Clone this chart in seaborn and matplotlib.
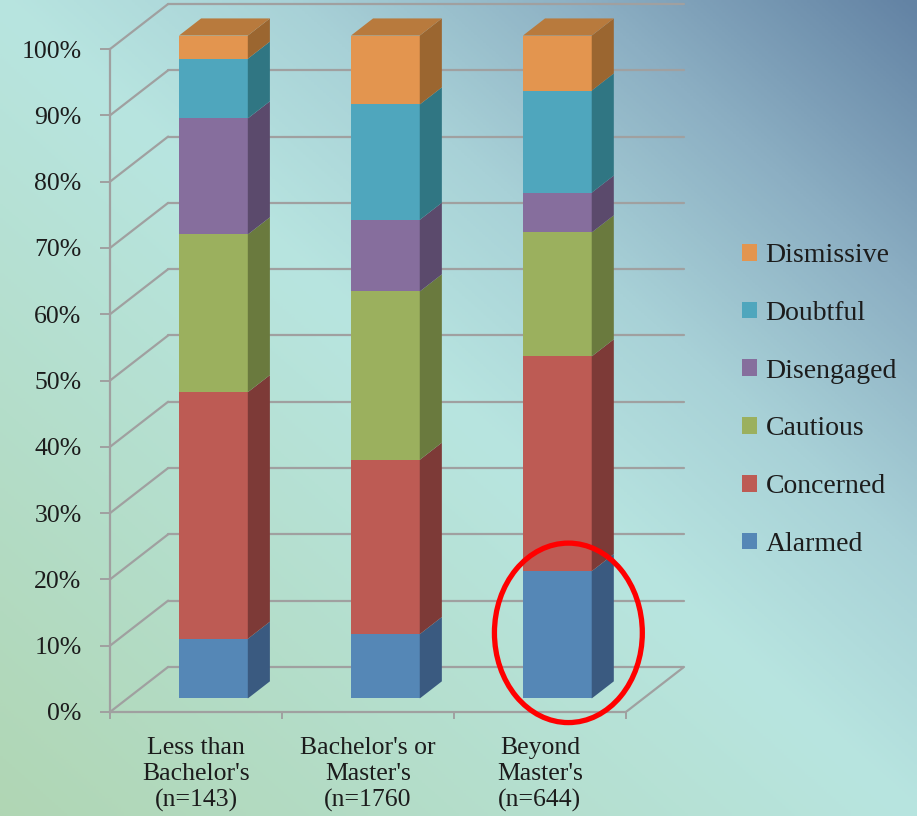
import numpy as np
import seaborn as sns
import matplotlib.pyplot as plt
from matplotlib.patches import Polygon, Patch, Ellipse
from matplotlib.colors import LinearSegmentedColormap

sns.set_theme(style="white")
plt.rcParams['font.family'] = ['Liberation Serif', 'DejaVu Serif']

# データ (割合 %, 下から順に積み上げ)
groups = ["Less than\nBachelor's\n(n=143)", "Bachelor's or\nMaster's\n(n=1760", "Beyond\nMaster's\n(n=644)"]
segments = ["Alarmed", "Concerned", "Cautious", "Disengaged", "Doubtful", "Dismissive"]
alarmed = [9.0, 9.7, 19.2]
concerned = [37.2, 26.3, 32.4]
cautious = [23.8, 25.4, 18.7]
disengaged = [17.5, 10.8, 6.0]
doubtful = [9.0, 17.4, 15.4]
dismissive = [3.5, 10.4, 8.3]
values = [alarmed, concerned, cautious, disengaged, doubtful, dismissive]
yticks = [0, 10, 20, 30, 40, 50, 60, 70, 80, 90, 100]

front_cols = sns.color_palette(["#5587b6", "#bd5b54", "#9bb05e", "#866e9d", "#4fa6bd", "#e3954f"])
side_cols = ["#3a5a80", "#7d3a37", "#6a7a3e", "#5b4a6c", "#307683", "#9b6630"]
top_col = "#b87a3d"
grid_col = "#a0a0a0"

# 疑似3Dの奥行き (x: カテゴリ単位, y: %単位)
DX, DY = 0.338, 6.8
F0, F1 = 0.30, 0.68   # 棒の前面/背面の奥行き位置
BW = 0.40

fig = plt.figure(figsize=(9.17, 8.16), dpi=100)

# 背景グラデーション
bg = fig.add_axes([0, 0, 1, 1], zorder=0)
xx, yy = np.meshgrid(np.linspace(0, 1, 300), np.linspace(1, 0, 300))
t = (xx + yy) / 2
cmap = LinearSegmentedColormap.from_list(
    "bg", [(0.0, "#b0d6b4"), (0.5, "#b8e5e0"), (0.66, "#a8d1d7"),
           (0.82, "#8cafc3"), (1.0, "#6383a4")])
bg.imshow(t, cmap=cmap, aspect='auto', extent=[0, 1, 0, 1], origin='upper', vmin=0, vmax=1)
bg.set_axis_off()

ax = fig.add_axes([110 / 917, 104 / 816, 574 / 917, 708 / 816], zorder=1)
ax.set_facecolor('none')
ax.set_xlim(-0.5, 2.5 + DX)
ax.set_ylim(0, 100 + DY)

# 奥の壁のグリッド線と左側の斜め線
for v in yticks:
    ax.plot([-0.5 + DX, 2.5 + DX], [v + DY, v + DY], color=grid_col, lw=1.6, zorder=1, clip_on=False)
    ax.plot([-0.5, -0.5 + DX], [v, v + DY], color=grid_col, lw=1.6, zorder=1, clip_on=False)
# 床の右端
ax.plot([2.5, 2.5 + DX], [0, DY], color=grid_col, lw=1.6, zorder=1)

# 積み上げ棒 (前面 + 側面 + 上面)
fx, fy = F0 * DX, F0 * DY
bx, by = F1 * DX, F1 * DY
for i in range(len(groups)):
    cum = 0
    for j, seg in enumerate(values):
        v = seg[i]
        ax.bar(i + fx, v, bottom=cum + fy, width=BW, color=front_cols[j], zorder=3, linewidth=0)
        r0, r1 = i + fx + BW / 2, i + bx + BW / 2
        side = Polygon([(r0, cum + fy), (r1, cum + by), (r1, cum + v + by), (r0, cum + v + fy)],
                       closed=True, facecolor=side_cols[j], edgecolor='none', zorder=3)
        ax.add_patch(side)
        cum += v
    l0, l1 = i + fx - BW / 2, i + bx - BW / 2
    r0, r1 = i + fx + BW / 2, i + bx + BW / 2
    top = Polygon([(l0, cum + fy), (r0, cum + fy), (r1, cum + by), (l1, cum + by)],
                  closed=True, facecolor=top_col, edgecolor='none', zorder=3)
    ax.add_patch(top)

# 赤い丸 (Beyond Master's の Alarmed を強調)
ell = Ellipse((2 + (F0 + F1) / 2 * DX, fy + alarmed[2] / 2 + 0.3), width=0.86,
              height=alarmed[2] * 1.41, fill=False, edgecolor='#ff0000', lw=3.8,
              zorder=5, clip_on=False)
ax.add_patch(ell)

# 軸
for s in ['top', 'right']:
    ax.spines[s].set_visible(False)
ax.spines['left'].set_bounds(0, 100)
ax.spines['bottom'].set_bounds(-0.5, 2.5)
for s in ['left', 'bottom']:
    ax.spines[s].set_color(grid_col)
    ax.spines[s].set_linewidth(1.6)
    ax.spines[s].set_zorder(2)

ax.set_yticks(yticks)
ax.set_yticklabels([f"{v}%" for v in yticks])
ax.tick_params(axis='y', length=7, width=1.4, color=grid_col, pad=13.5,
               labelsize=18.5, labelcolor='#1c1c1c', left=True)
ax.set_xticks(range(len(groups)))
ax.set_xticklabels(groups, linespacing=1.22)
ax.set_xticks([-0.5, 0.5, 1.5, 2.5], minor=True)
ax.tick_params(axis='x', which='major', length=0, pad=18, labelsize=18.5, labelcolor='#1c1c1c')
ax.tick_params(axis='x', which='minor', length=5, width=1.4, color=grid_col, bottom=True)

# 凡例
handles = [Patch(facecolor=front_cols[j], edgecolor='none', label=segments[j])
           for j in range(len(segments))][::-1]
fig.legend(handles=handles, loc='upper left', bbox_to_anchor=(742 / 917, 1 - 243 / 816),
           frameon=False, fontsize=20, handlelength=0.55, handleheight=0.55,
           handletextpad=0.3, labelspacing=1.18, borderpad=0, borderaxespad=0,
           labelcolor='#1c1c1c')

fig.savefig("out.png", dpi=100)
